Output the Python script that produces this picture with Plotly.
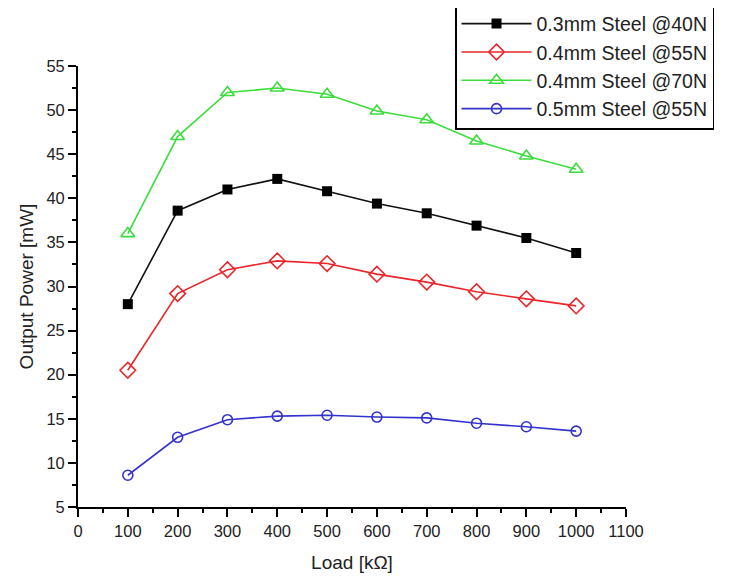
import plotly.graph_objects as go

load = [100, 200, 300, 400, 500, 600, 700, 800, 900, 1000]
steel03_40N = [28.0, 38.6, 41.0, 42.2, 40.8, 39.4, 38.3, 36.9, 35.5, 33.8]
steel04_55N = [20.5, 29.2, 31.9, 32.9, 32.6, 31.4, 30.5, 29.4, 28.6, 27.8]
steel04_70N = [36.0, 47.0, 52.0, 52.5, 51.8, 49.9, 48.9, 46.5, 44.8, 43.3]
steel05_55N = [8.6, 12.9, 14.9, 15.3, 15.4, 15.2, 15.1, 14.5, 14.1, 13.6]

names = ["0.3mm Steel @40N", "0.4mm Steel @55N", "0.4mm Steel @70N", "0.5mm Steel @55N"]
x_ticks = list(range(0, 1101, 100))
y_ticks = list(range(5, 56, 5))

FONT = "Liberation Sans, Arial"

fig = go.Figure()
fig.add_trace(go.Scatter(x=load, y=steel03_40N, name=names[0], mode="lines+markers",
                         line=dict(color="#111111", width=1.6),
                         marker=dict(symbol="square", size=10, color="#000000")))
fig.add_trace(go.Scatter(x=load, y=steel04_55N, name=names[1], mode="lines+markers",
                         line=dict(color="#e8262b", width=1.6),
                         marker=dict(symbol="diamond-open", size=12, color="#e8262b", line=dict(width=1.6))))
fig.add_trace(go.Scatter(x=load, y=steel04_70N, name=names[2], mode="lines+markers",
                         line=dict(color="#3ddc3d", width=1.6),
                         marker=dict(symbol="triangle-up-open", size=12, color="#3ddc3d", line=dict(width=1.6))))
fig.add_trace(go.Scatter(x=load, y=steel05_55N, name=names[3], mode="lines+markers",
                         line=dict(color="#3333cc", width=1.6),
                         marker=dict(symbol="circle-open", size=10, color="#3333cc", line=dict(width=1.6))))

axis_common = dict(showgrid=False, zeroline=False, showline=True, linecolor="black", linewidth=1.8,
                   ticks="outside", ticklen=8, tickwidth=1.5, tickcolor="black",
                   tickfont=dict(family=FONT, size=16.5, color="#222"),
                   mirror=False)

fig.update_xaxes(range=[0, 1100], tickvals=x_ticks, ticktext=[str(v) for v in x_ticks],
                 minor=dict(ticks="outside", ticklen=4, tickwidth=1.5, tickcolor="black", dtick=50, tick0=0),
                 title=dict(text="Load [kΩ]", font=dict(family=FONT, size=19, color="#222"), standoff=17),
                 **axis_common)
fig.update_yaxes(range=[5, 55], tickvals=y_ticks, ticktext=[str(v) for v in y_ticks],
                 minor=dict(ticks="outside", ticklen=4, tickwidth=1.5, tickcolor="black", dtick=2.5, tick0=5),
                 title=dict(text="Output Power [mW]", font=dict(family=FONT, size=19, color="#222"), standoff=8),
                 **axis_common)

fig.update_layout(
    width=723, height=573,
    margin=dict(l=70, r=105, t=58, b=74, autoexpand=False),
    plot_bgcolor="white", paper_bgcolor="white",
    font=dict(family=FONT, color="#222"),
    legend=dict(x=0.688, y=1.143, xanchor="left", yanchor="top",
                bordercolor="black", borderwidth=1.5, bgcolor="white",
                font=dict(family=FONT, size=19.5, color="#222"),
                tracegroupgap=0, itemwidth=70),
    showlegend=True,
)

fig.write_html("out.html")
